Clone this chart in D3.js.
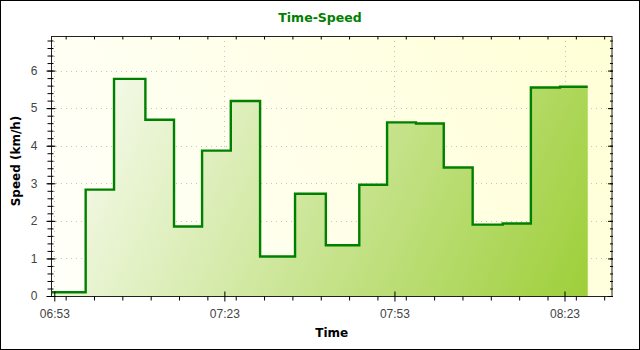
<!DOCTYPE html>
<html>
<head>
<meta charset="utf-8">
<script src="https://cdn.jsdelivr.net/npm/d3@7"></script>
<style>
  body { margin: 0; background: #fff; }
  .tick-label { font-family: "Liberation Sans", Arial, sans-serif; font-size: 12px; fill: #444; }
  .axis-title { font-family: "DejaVu Sans", sans-serif; font-size: 12px; font-weight: bold; fill: #000; }
</style>
</head>
<body>
<svg id="chart" width="640" height="350"></svg>
<script>
/* data */
var times = ["06:52:25", "06:58:32", "07:03:32", "07:09:04", "07:14:07", "07:19:04", "07:24:08",
             "07:29:18", "07:35:28", "07:40:54", "07:46:48", "07:51:42", "07:56:48", "08:01:42",
             "08:06:48", "08:12:06", "08:17:04", "08:22:12", "08:27:06"];
var speeds = [0.10, 2.83, 5.78, 4.69, 1.85, 3.87, 5.19, 1.05, 2.72, 1.35, 2.96,
              4.62, 4.59, 3.42, 1.90, 1.93, 5.55, 5.57, 5.57];
var xTickLabels = ["06:53", "07:23", "07:53", "08:23"];
var yTickValues = [0, 1, 2, 3, 4, 5, 6];

var parseTime = d3.timeParse("%H:%M:%S");
var data = times.map(function(t, i) { return {date: parseTime(t), speed: speeds[i]}; });

var svg = d3.select("#chart");

/* plot rectangle (window.top is reserved, hence the p_ prefix) */
var p_left = 51, p_right = 612.5, p_top = 36, p_bottom = 296;

var x = d3.scaleTime()
    .domain([parseTime("06:52:25"), parseTime("08:31:28")])
    .range([p_left, p_right]);

var y = d3.scaleLinear()
    .domain([0, 6.92])
    .range([p_bottom, p_top]);

var defs = svg.append("defs");

var bgGrad = defs.append("linearGradient")
    .attr("id", "bg-grad")
    .attr("gradientUnits", "userSpaceOnUse")
    .attr("x1", p_left).attr("y1", p_bottom)
    .attr("x2", p_right).attr("y2", p_top);
bgGrad.append("stop").attr("offset", "0%").attr("stop-color", "#fffffa");
bgGrad.append("stop").attr("offset", "100%").attr("stop-color", "#ffffd6");

var fillGrad = defs.append("linearGradient")
    .attr("id", "fill-grad")
    .attr("gradientUnits", "userSpaceOnUse")
    .attr("x1", p_left).attr("y1", p_top)
    .attr("x2", p_right).attr("y2", p_bottom);
fillGrad.append("stop").attr("offset", "0%").attr("stop-color", "#ffffff");
fillGrad.append("stop").attr("offset", "100%").attr("stop-color", "#9acd32");

/* outer border */
svg.append("rect")
    .attr("x", 0.5).attr("y", 0.5)
    .attr("width", 639).attr("height", 349)
    .attr("fill", "#fff")
    .attr("stroke", "#000");

/* plot background */
svg.append("rect")
    .attr("x", p_left).attr("y", p_top)
    .attr("width", p_right - p_left).attr("height", p_bottom - p_top)
    .attr("fill", "url(#bg-grad)");

/* dotted grid lines */
var majorTimes = xTickLabels.map(function(s) { return parseTime(s + ":00"); });

svg.append("g").selectAll("line")
    .data(yTickValues.slice(1))
  .enter().append("line")
    .attr("x1", p_left).attr("x2", p_right)
    .attr("y1", function(d) { return Math.round(y(d)) + 0.5; })
    .attr("y2", function(d) { return Math.round(y(d)) + 0.5; })
    .attr("stroke", "#c4c4c4")
    .attr("stroke-dasharray", "1,4");

svg.append("g").selectAll("line")
    .data(majorTimes)
  .enter().append("line")
    .attr("y1", p_top).attr("y2", p_bottom)
    .attr("x1", function(d) { return Math.round(x(d)) + 0.5; })
    .attr("x2", function(d) { return Math.round(x(d)) + 0.5; })
    .attr("stroke", "#c4c4c4")
    .attr("stroke-dasharray", "1,4");

/* step area + line */
var area = d3.area()
    .curve(d3.curveStepAfter)
    .x(function(d) { return x(d.date); })
    .y0(y(0))
    .y1(function(d) { return y(d.speed); });

var line = d3.line()
    .curve(d3.curveStepAfter)
    .x(function(d) { return x(d.date); })
    .y(function(d) { return y(d.speed); });

svg.append("path")
    .datum(data)
    .attr("d", area)
    .attr("fill", "url(#fill-grad)");

svg.append("path")
    .datum(data)
    .attr("d", line)
    .attr("fill", "none")
    .attr("stroke", "#008000")
    .attr("stroke-width", 2.4);

/* plot outline */
svg.append("rect")
    .attr("x", p_left + 0.5).attr("y", p_top + 0.5)
    .attr("width", p_right - p_left - 1).attr("height", p_bottom - p_top)
    .attr("fill", "none")
    .attr("stroke", "#222");

/* minor tick values */
var minorTimes = d3.timeMinute.every(5).range(parseTime("06:53:00"), x.domain()[1]);
var minorY = d3.range(0, 35).map(function(i) { return i / 5; });

/* left axis */
svg.append("g")
    .attr("transform", "translate(" + (p_left + 0.5) + ",0)")
    .call(d3.axisLeft(y).tickValues(minorY).tickSize(4).tickFormat(""))
    .call(function(g) {
      g.select(".domain").remove();
      g.selectAll(".tick line").attr("x1", 2);
    });

svg.append("g")
    .attr("transform", "translate(" + (p_left + 0.5) + ",0)")
    .call(d3.axisLeft(y).tickValues(yTickValues).tickSize(5).tickPadding(9).tickFormat(d3.format("d")))
    .call(function(g) {
      g.select(".domain").remove();
      g.selectAll(".tick line").attr("x1", 4);
      g.selectAll(".tick text").attr("class", "tick-label").attr("fill", null);
    });

/* right axis, ticks only */
svg.append("g")
    .attr("transform", "translate(" + (p_right - 0.5) + ",0)")
    .call(d3.axisLeft(y).tickValues(minorY).tickSize(2).tickFormat(""))
    .call(function(g) {
      g.select(".domain").remove();
      g.selectAll(".tick line").attr("x1", 1);
    });
svg.append("g")
    .attr("transform", "translate(" + (p_right - 0.5) + ",0)")
    .call(d3.axisLeft(y).tickValues(yTickValues).tickSize(4).tickFormat(""))
    .call(function(g) {
      g.select(".domain").remove();
      g.selectAll(".tick line").attr("x1", 1);
    });

/* bottom axis */
svg.append("g")
    .attr("transform", "translate(0," + (p_bottom + 0.5) + ")")
    .call(d3.axisBottom(x).tickValues(minorTimes).tickSize(4).tickFormat(""))
    .call(function(g) { g.select(".domain").remove(); });

svg.append("g")
    .attr("transform", "translate(0," + (p_bottom + 0.5) + ")")
    .call(d3.axisBottom(x).tickValues(majorTimes).tickSize(5).tickPadding(8).tickFormat(d3.timeFormat("%H:%M")))
    .call(function(g) {
      g.select(".domain").remove();
      g.selectAll(".tick line").attr("y1", -5);
      g.selectAll(".tick text").attr("class", "tick-label").attr("fill", null);
    });

/* top axis, ticks only */
svg.append("g")
    .attr("transform", "translate(0," + (p_top + 0.5) + ")")
    .call(d3.axisBottom(x).tickValues(minorTimes).tickSize(3).tickFormat(""))
    .call(function(g) { g.select(".domain").remove(); });

/* title and axis titles */
svg.append("text")
    .attr("x", 320).attr("y", 22)
    .attr("text-anchor", "middle")
    .style("font-family", "DejaVu Sans, sans-serif")
    .style("font-size", "12.5px")
    .style("font-weight", "bold")
    .attr("fill", "#008000")
    .text("Time-Speed");

svg.append("text")
    .attr("class", "axis-title")
    .attr("x", (p_left + p_right) / 2).attr("y", 337)
    .attr("text-anchor", "middle")
    .text("Time");

svg.append("text")
    .attr("class", "axis-title")
    .attr("transform", "translate(19.5,161) rotate(-90)")
    .attr("text-anchor", "middle")
    .text("Speed (km/h)");
</script>
</body>
</html>
